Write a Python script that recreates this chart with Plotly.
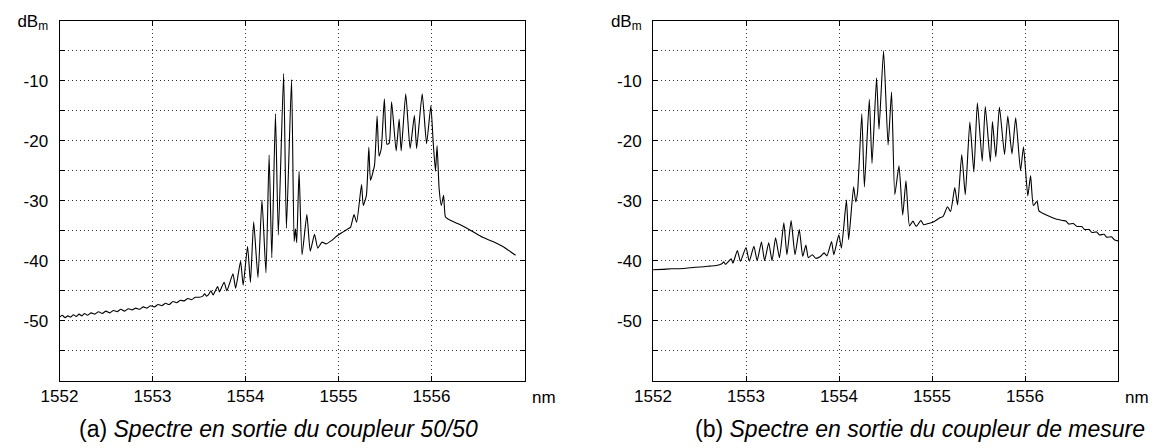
import plotly.graph_objects as go

# ---- Panel (a): spectrum at the 50/50 coupler output ----
wl_a = [1552.00, 1552.03, 1552.06, 1552.09, 1552.12, 1552.15, 1552.18, 1552.21, 1552.24, 1552.27,
        1552.30, 1552.34, 1552.38, 1552.42, 1552.46, 1552.50, 1552.54, 1552.58, 1552.62, 1552.66,
        1552.70, 1552.74, 1552.78, 1552.82, 1552.86, 1552.90, 1552.94, 1552.98, 1553.02, 1553.06,
        1553.10, 1553.14, 1553.18, 1553.22, 1553.26, 1553.30, 1553.34, 1553.38, 1553.42, 1553.46,
        1553.50, 1553.54, 1553.56, 1553.58, 1553.60, 1553.628,
        1553.652, 1553.70, 1553.72, 1553.77, 1553.80, 1553.865, 1553.894, 1553.947, 1553.975, 1554.022,
        1554.053, 1554.088, 1554.134, 1554.177, 1554.22, 1554.254, 1554.283, 1554.322, 1554.353, 1554.41,
        1554.44, 1554.495, 1554.523, 1554.537, 1554.551, 1554.576, 1554.608, 1554.66, 1554.696, 1554.742,
        1554.777, 1554.823, 1554.866, 1554.92, 1554.99, 1555.05, 1555.10, 1555.13, 1555.167, 1555.195,
        1555.248, 1555.266, 1555.30, 1555.326, 1555.344, 1555.387, 1555.415, 1555.436, 1555.46, 1555.493,
        1555.521, 1555.545, 1555.571, 1555.62, 1555.652, 1555.674, 1555.723, 1555.77, 1555.816, 1555.84,
        1555.90, 1555.947, 1555.993, 1556.018, 1556.043, 1556.06, 1556.082, 1556.106, 1556.13, 1556.15,
        1556.195, 1556.28, 1556.372, 1556.46, 1556.55, 1556.66, 1556.762, 1556.85, 1556.904]
pw_a = [-49.4, -49.1, -49.5, -49.2, -49.4, -49.0, -49.3, -48.9, -49.2, -48.8,
        -49.1, -48.7, -48.9, -48.5, -48.8, -48.4, -48.7, -48.3, -48.5, -48.1,
        -48.4, -48.0, -48.2, -47.9, -48.1, -47.7, -47.9, -47.5, -47.7, -47.3,
        -47.5, -47.1, -47.3, -46.8, -47.0, -46.6, -46.7, -46.3, -46.5, -46.1,
        -46.1, -45.9, -45.5, -45.9, -45.7, -45.0,
        -45.7, -44.3, -45.2, -43.6, -45.0, -42.2, -44.6, -40.1, -44.1, -37.6,
        -43.6, -33.5, -42.8, -29.9, -42.0, -22.4, -39.5, -15.5, -35.7, -8.8,
        -34.6, -9.8, -36.8, -34.7, -37.0, -25.1, -39.0, -32.3, -38.4, -35.6,
        -37.9, -36.9, -37.2, -36.7, -35.8, -35.2, -34.7, -34.4, -32.3, -33.6,
        -27.3, -30.8, -29.1, -21.1, -26.6, -24.1, -15.9, -22.6, -21.3, -13.0,
        -20.6, -20.4, -13.5, -21.7, -16.4, -21.7, -12.2, -21.3, -15.8, -21.3,
        -12.2, -20.5, -14.2, -20.2, -25.1, -20.8, -28.0, -30.8, -29.1, -32.7,
        -33.2, -33.8, -34.5, -35.3, -36.1, -36.8, -37.6, -38.5, -39.1]

# ---- Panel (b): spectrum at the measurement coupler output ----
wl_b = [1552.00, 1552.10, 1552.20, 1552.33, 1552.45, 1552.55, 1552.61, 1552.68, 1552.74, 1552.76,
        1552.78, 1552.84, 1552.86, 1552.907, 1552.94, 1553.00, 1553.035, 1553.085, 1553.12, 1553.166,
        1553.20, 1553.244, 1553.28, 1553.318, 1553.36, 1553.407, 1553.44, 1553.485, 1553.527, 1553.573,
        1553.61, 1553.644, 1553.67, 1553.714, 1553.75, 1553.80, 1553.84, 1553.87, 1553.92, 1553.944,
        1553.998, 1554.026, 1554.08, 1554.104, 1554.157, 1554.18, 1554.20, 1554.245, 1554.273, 1554.326,
        1554.355, 1554.404, 1554.43, 1554.479, 1554.528, 1554.565, 1554.60, 1554.645, 1554.685, 1554.72,
        1554.758, 1554.795, 1554.83, 1554.88, 1554.91, 1554.96, 1555.02, 1555.08, 1555.12, 1555.167,
        1555.20, 1555.245, 1555.275, 1555.32, 1555.358, 1555.407, 1555.45, 1555.488, 1555.54, 1555.573,
        1555.627, 1555.65, 1555.686, 1555.725, 1555.78, 1555.815, 1555.86, 1555.90, 1555.952, 1555.984,
        1556.03, 1556.06, 1556.09, 1556.13, 1556.15, 1556.23, 1556.34, 1556.41, 1556.44, 1556.47,
        1556.52, 1556.56, 1556.61, 1556.64, 1556.69, 1556.72, 1556.77, 1556.80, 1556.85, 1556.88,
        1556.93, 1556.96, 1557.00]
pw_b = [-41.5, -41.45, -41.35, -41.3, -41.1, -41.0, -40.9, -40.8, -40.5, -40.2,
        -40.6, -39.7, -40.4, -38.3, -40.1, -37.8, -40.1, -37.6, -40.0, -36.9,
        -40.0, -37.0, -40.0, -36.2, -39.5, -33.7, -39.0, -33.3, -39.0, -34.8,
        -39.3, -37.4, -39.5, -39.0, -39.6, -39.3, -38.7, -39.2, -36.8, -39.0,
        -35.7, -37.9, -29.9, -36.5, -27.7, -30.2, -28.5, -15.5, -27.7, -13.1,
        -23.8, -9.5, -18.1, -5.0, -20.7, -11.9, -29.0, -24.2, -32.4, -26.7,
        -34.2, -33.4, -34.3, -33.3, -34.0, -33.8, -33.5, -32.9, -32.6, -31.0,
        -31.8, -27.8, -30.7, -22.3, -29.0, -16.9, -25.2, -13.7, -23.4, -14.3,
        -23.5, -16.8, -22.7, -14.4, -22.3, -15.9, -22.2, -16.2, -25.0, -21.0,
        -29.2, -25.8, -30.8, -30.1, -31.7, -32.4, -33.1, -33.3, -33.4, -33.9,
        -33.8, -34.3, -34.3, -34.8, -34.8, -35.3, -35.2, -35.7, -35.6, -36.1,
        -36.0, -36.5, -36.7]

x_tickvals = [1552, 1553, 1554, 1555, 1556, 1557]
x_ticktext = ["1552", "1553", "1554", "1555", "1556", ""]
x_unit = "nm"
y_tickvals = [0, -5, -10, -15, -20, -25, -30, -35, -40, -45, -50, -55, -60]
y_ticktext = ["dB<sub>m</sub>", "", "-10", "", "-20", "", "-30", "", "-40", "", "-50", "", ""]
captions = ["(a) <i>Spectre en sortie du coupleur 50/50</i>",
            "(b) <i>Spectre en sortie du coupleur de mesure</i>"]

W, H = 1164, 448
FONT = "Liberation Sans"
panel_px = [(51.5, 516.5), (645.0, 1110.0)]
caption_cx = [270.0, 912.0]
top_px, bot_px = 12.7, 372.7
GRID = "#333333"

fig = go.Figure()
for i, (xs, ys) in enumerate([(wl_a, pw_a), (wl_b, pw_b)]):
    sfx = "" if i == 0 else "2"
    fig.add_trace(go.Scatter(x=xs, y=ys, mode="lines",
                             line=dict(color="black", width=1.1, shape="spline", smoothing=0.5),
                             xaxis="x" + sfx, yaxis="y" + sfx, showlegend=False))

def xax(dom, anchor):
    return dict(domain=dom, anchor=anchor, range=[1552, 1557], tickmode="array",
                tickvals=x_tickvals, ticktext=x_ticktext, showline=True, linecolor="black",
                linewidth=1, mirror="allticks", ticks="inside", ticklen=5, tickcolor="black",
                showgrid=True, gridcolor=GRID, griddash="1px,3px", gridwidth=1, zeroline=False,
                tickfont=dict(family=FONT, size=17, color="black"), fixedrange=True)

def yax(anchor):
    return dict(domain=[1 - bot_px / H, 1 - top_px / H], anchor=anchor, range=[-60, 0],
                tickmode="array", tickvals=y_tickvals, ticktext=y_ticktext, showline=True,
                linecolor="black", linewidth=1, mirror="allticks", ticks="inside", ticklen=5,
                tickcolor="black", showgrid=True, gridcolor=GRID, griddash="1px,3px",
                gridwidth=1, zeroline=False, ticklabelstandoff=7,
                tickfont=dict(family=FONT, size=17, color="black"), fixedrange=True)

doms = [[a / W, b / W] for a, b in panel_px]
annotations = []
for (a, b), cx, cap in zip(panel_px, caption_cx, captions):
    annotations.append(dict(x=cx / W, y=1 - 421 / H, xref="paper", yref="paper",
                            text=cap, showarrow=False, xanchor="center", yanchor="middle",
                            font=dict(family=FONT, size=23, color="black")))
    annotations.append(dict(x=(b + 19) / W, y=1 - (bot_px + 17) / H, xref="paper", yref="paper",
                            text=x_unit, showarrow=False, xanchor="center", yanchor="middle",
                            font=dict(family=FONT, size=17, color="black")))

fig.update_layout(
    width=W, height=H, margin=dict(l=0, r=0, t=0, b=0),
    paper_bgcolor="white", plot_bgcolor="white", template="none",
    xaxis=xax(doms[0], "y"), yaxis=yax("x"),
    xaxis2=xax(doms[1], "y2"), yaxis2=yax("x2"),
    annotations=annotations, showlegend=False,
)
fig.write_html("out.html")
